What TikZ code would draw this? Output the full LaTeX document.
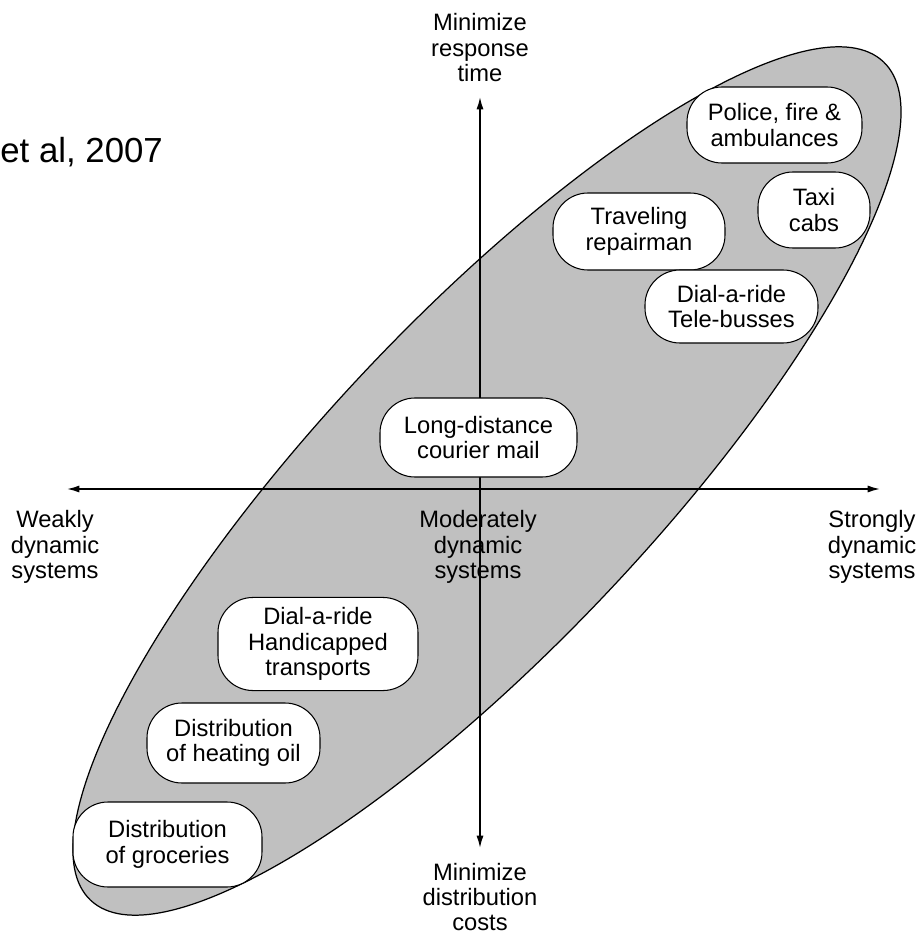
\documentclass[tikz,border=0pt]{standalone}
\usepackage{fontspec}
\setmainfont{Liberation Sans}
\usepackage{xcolor}
\usepackage{tikz}
\usetikzlibrary{arrows.meta}
\definecolor{ellgray}{RGB}{192,192,192}

\begin{document}
\begin{tikzpicture}[font=\fontsize{13.5}{14.5}\selectfont]
	\useasboundingbox (-9.6,-8.92) rectangle (8.8,9.78);
	\tikzstyle{box}=[draw=black,fill=white,line width=0.6pt,rounded corners=0.7cm,align=center,inner xsep=0.2cm,inner ysep=0.2cm]
	\tikzstyle{lbl}=[align=center,inner sep=0pt]
	\tikzstyle{axis}=[line width=0.9pt,{Latex[length=7pt,width=4pt]}-{Latex[length=7pt,width=4pt]}]
	\draw[fill=ellgray,line width=0.7pt,rotate around={46.6:(0.14,0.16)}] (0.14,0.16) ellipse (11.54 and 3.28);
	\coordinate (top) at (0,7.84);
	\coordinate (bottom) at (0,-7.18);
	\coordinate (left) at (-8.26,0);
	\coordinate (right) at (8.0,0);
	\draw[axis] (top) -- (bottom);
	\draw[axis] (left) -- (right);
	\node[lbl](resp) at (0,8.82) {Minimize\\response\\time};
	\node[lbl](cost) at (0,-8.16) {Minimize\\distribution\\costs};
	\node[lbl](weak) at (-8.5,-1.16) {Weakly\\dynamic\\systems};
	\node[lbl](moder) at (-0.04,-1.16) {Moderately\\dynamic\\systems};
	\node[lbl](strong) at (7.84,-1.16) {Strongly\\dynamic\\systems};
	\node[anchor=base west,inner sep=0pt,font=\fontsize{19.8}{22}\selectfont](ref) at (-9.6,6.52) {et al, 2007};
	\node[box,minimum width=3.5cm,minimum height=1.52cm](police) at (5.89,7.28) {Police, fire \&\\ambulances};
	\node[box,minimum width=2.24cm,minimum height=1.52cm](taxi) at (6.68,5.58) {Taxi\\cabs};
	\node[box,minimum width=3.44cm,minimum height=1.54cm](repair) at (3.18,5.15) {Traveling\\repairman};
	\node[box,minimum width=3.46cm,minimum height=1.46cm](tele) at (5.03,3.65) {Dial-a-ride\\Tele-busses};
	\node[box,minimum width=3.94cm,minimum height=1.58cm](courier) at (-0.03,1.03) {Long-distance\\courier mail};
	\node[box,minimum width=4.0cm,minimum height=1.84cm](handi) at (-3.24,-3.1) {Dial-a-ride\\Handicapped\\transports};
	\node[box,minimum width=3.46cm,minimum height=1.6cm](oil) at (-4.93,-5.08) {Distribution\\of heating oil};
	\node[box,minimum width=3.78cm,minimum height=1.7cm](groc) at (-6.25,-7.11) {Distribution\\of groceries};
\end{tikzpicture}
\end{document}
